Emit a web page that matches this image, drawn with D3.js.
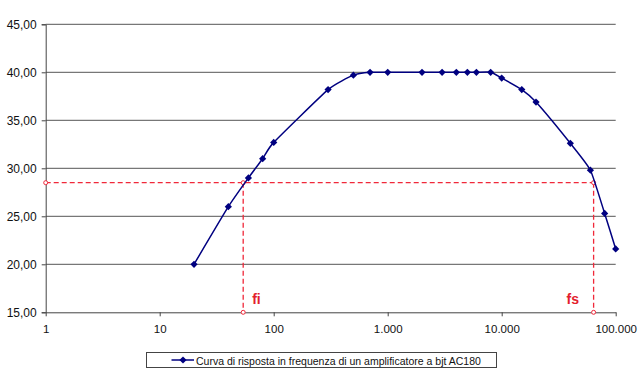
<!DOCTYPE html>
<html>
<head>
<meta charset="utf-8">
<script src="https://cdn.jsdelivr.net/npm/d3@7"></script>
<style>
  body { margin: 0; background: #fff; }
  svg { display: block; font-family: "Liberation Sans", Arial, sans-serif; }
</style>
</head>
<body>
<svg id="chart" width="642" height="376"></svg>
<script>
// frequenza (Hz) e guadagno (dB)
var freq = [20, 40, 60, 80, 100, 300, 500, 700, 1000, 2000, 3000, 4000, 5000, 6000, 8000, 10000, 15000, 20000, 40000, 60000, 80000, 100000];
var gain = [20.0, 26.0, 29.0, 31.0, 32.7, 38.2, 39.7, 40.0, 40.0, 40.0, 40.0, 40.0, 40.0, 40.0, 40.0, 39.4, 38.2, 36.9, 32.6, 29.8, 25.3, 21.6];
var xTicks = [1, 10, 100, 1000, 10000, 100000];
var yTicks = [15, 20, 25, 30, 35, 40, 45];
var cutLevel = 28.5;
var cutFreqs = [54, 64000];
var cutNames = ["fi", "fs"];
var seriesName = "Curva di risposta in frequenza di un amplificatore a bjt AC180";

var svg = d3.select("#chart");
var plotL = 45.7, plotR = 615.7, plotT = 24.3, plotB = 312.3;

var x = d3.scaleLog().domain([1, 100000]).range([plotL, plotR]);
var y = d3.scaleLinear().domain([15, 45]).range([plotB, plotT]);

var itNum = d3.formatLocale({ decimal: ",", thousands: ".", grouping: [3], currency: ["", "€"] });
var fmtY = itNum.format(".2f");
var fmtX = itNum.format(",d");

// griglia orizzontale
svg.append("g")
  .selectAll("line")
  .data(yTicks.slice(1))
  .join("line")
  .attr("x1", plotL).attr("x2", plotR)
  .attr("y1", function (d) { return y(d); })
  .attr("y2", function (d) { return y(d); })
  .attr("stroke", "#555")
  .attr("stroke-width", 1);

// asse y
var yAxis = svg.append("g")
  .attr("transform", "translate(" + plotL + ",0)")
  .call(d3.axisLeft(y).tickValues(yTicks).tickFormat(fmtY).tickSize(4).tickPadding(5));
yAxis.select(".domain").attr("stroke", "#444");
yAxis.selectAll(".tick line").attr("stroke", "#444");
yAxis.selectAll("text").attr("font-size", 12).attr("fill", "#111")
  .attr("font-family", "Liberation Sans, Arial, sans-serif");

// asse x
var xAxis = svg.append("g")
  .attr("transform", "translate(0," + plotB + ")")
  .call(d3.axisBottom(x).tickValues(xTicks).tickFormat(fmtX).tickSize(4).tickSizeOuter(0).tickPadding(9));
xAxis.select(".domain").attr("stroke", "#444");
xAxis.selectAll(".tick line").attr("stroke", "#444");
xAxis.selectAll("text").attr("font-size", 11.5).attr("fill", "#111")
  .attr("font-family", "Liberation Sans, Arial, sans-serif");

// linee tratteggiate rosse (fi, fs)
var red = "#f0283a";
var guides = svg.append("g").attr("stroke", red).attr("stroke-width", 1.3)
  .attr("stroke-dasharray", "5,3").attr("fill", "none");
guides.append("line")
  .attr("x1", plotL).attr("x2", x(cutFreqs[1]))
  .attr("y1", y(cutLevel)).attr("y2", y(cutLevel));
guides.selectAll("line.v")
  .data(cutFreqs)
  .join("line")
  .attr("class", "v")
  .attr("x1", function (d) { return x(d); })
  .attr("x2", function (d) { return x(d); })
  .attr("y1", y(cutLevel)).attr("y2", plotB);

var ends = [[1, cutLevel]];
cutFreqs.forEach(function (f) { ends.push([f, cutLevel]); ends.push([f, 15]); });
svg.append("g")
  .selectAll("circle")
  .data(ends)
  .join("circle")
  .attr("cx", function (d) { return x(d[0]); })
  .attr("cy", function (d) { return y(d[1]); })
  .attr("r", 2)
  .attr("fill", "#fff")
  .attr("stroke", red)
  .attr("stroke-width", 1);

svg.append("g")
  .selectAll("text")
  .data(cutNames)
  .join("text")
  .attr("x", function (d, i) { return x(cutFreqs[i]) + (i === 0 ? 9 : -27); })
  .attr("y", 303.5)
  .attr("font-size", 14)
  .attr("font-weight", "bold")
  .attr("fill", "#e3202c")
  .text(function (d) { return d; });

// curva
var pts = freq.map(function (f, i) { return [x(f), y(gain[i])]; });
svg.append("path")
  .datum(pts)
  .attr("fill", "none")
  .attr("stroke", "#000080")
  .attr("stroke-width", 1.5)
  .attr("d", d3.line().curve(d3.curveCardinal.tension(0.5)));

var marker = d3.symbol().type(d3.symbolSquare).size(26);
svg.append("g")
  .selectAll("path")
  .data(pts)
  .join("path")
  .attr("transform", function (d) { return "translate(" + d[0] + "," + d[1] + ") rotate(45)"; })
  .attr("d", marker)
  .attr("fill", "#000080");

// legenda
var lg = svg.append("g");
lg.append("rect")
  .attr("x", 146.5).attr("y", 352.5)
  .attr("width", 350).attr("height", 15)
  .attr("fill", "#fff").attr("stroke", "#444").attr("stroke-width", 1);
lg.append("line")
  .attr("x1", 171.5).attr("x2", 194)
  .attr("y1", 360).attr("y2", 360)
  .attr("stroke", "#000080").attr("stroke-width", 1.5);
lg.append("path")
  .attr("transform", "translate(183,360) rotate(45)")
  .attr("d", marker)
  .attr("fill", "#000080");
lg.append("text")
  .attr("x", 196).attr("y", 364.5)
  .attr("font-size", 10.5)
  .attr("fill", "#111")
  .text(seriesName);
</script>
</body>
</html>
